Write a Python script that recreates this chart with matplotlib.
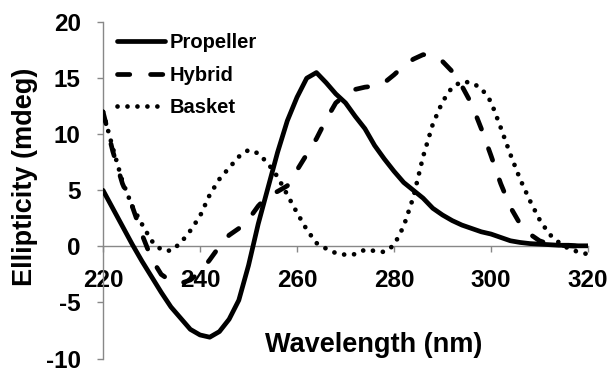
import matplotlib
matplotlib.use("Agg")
import matplotlib.pyplot as plt

plt.rcParams['font.family'] = ['Liberation Sans', 'DejaVu Sans']
plt.rcParams['font.weight'] = 'bold'
plt.rcParams['axes.unicode_minus'] = False

# wavelength grid (nm), every 2 nm
wavelength = list(range(220, 322, 2))

propeller = [5.0, 3.4, 1.8, 0.2, -1.3, -2.7, -4.1, -5.4, -6.4, -7.4,
             -7.9, -8.1, -7.6, -6.5, -4.8, -1.7, 2.0, 5.2, 8.4, 11.2,
             13.3, 15.0, 15.5, 14.6, 13.6, 12.8, 11.6, 10.5, 9.0, 7.8,
             6.7, 5.7, 5.0, 4.3, 3.4, 2.8, 2.3, 1.9, 1.6, 1.3,
             1.1, 0.8, 0.5, 0.35, 0.25, 0.2, 0.15, 0.1, 0.1, 0.05,
             0.05]

hybrid = [12.0, 8.5, 5.6, 3.6, 1.1, -1.1, -2.5, -3.1, -3.3, -3.0,
          -2.3, -1.2, 0.0, 1.0, 1.6, 2.4, 3.6, 4.5, 4.9, 5.4,
          6.8, 8.2, 9.6, 11.3, 12.8, 13.5, 14.0, 14.2, 14.3, 14.6,
          15.3, 16.1, 16.7, 17.1, 17.0, 16.5, 15.6, 14.3, 12.7, 10.5,
          8.1, 5.6, 3.5, 2.0, 1.1, 0.5, 0.2, 0.1, 0.05, 0.0,
          0.0]

basket = [12.0, 8.8, 5.8, 3.6, 2.0, 0.5, -0.3, -0.4, 0.3, 1.4,
          2.7, 4.6, 6.0, 7.0, 8.0, 8.6, 8.3, 7.4, 6.2, 4.6,
          3.0, 1.5, 0.3, -0.2, -0.6, -0.75, -0.7, -0.3, -0.4, -0.5,
          0.1, 1.8, 4.4, 8.0, 10.9, 12.9, 14.2, 14.7, 14.6, 14.1,
          12.9, 10.6, 8.2, 6.0, 4.1, 2.4, 1.1, 0.35, -0.2, -0.5,
          -0.7]

x_ticks = [220, 240, 260, 280, 300, 320]
y_ticks = [-10, -5, 0, 5, 10, 15, 20]

fig = plt.figure(figsize=(6.1, 3.75), dpi=100)
ax = fig.add_axes([0.1689, 0.044, 0.795, 0.897])

lw = 3.4
ax.plot(wavelength, propeller, color='black', lw=lw, solid_capstyle='round',
        solid_joinstyle='round', label='Propeller', zorder=3)
ax.plot(wavelength, hybrid, color='black', lw=lw, linestyle=(0, (2.6, 4.4)),
        dash_capstyle='round', dash_joinstyle='round', label='Hybrid', zorder=3)
ax.plot(wavelength, basket, color='black', lw=lw, linestyle=(0, (0.01, 2.1)),
        dash_capstyle='round', label='Basket', zorder=3)

ax.set_xlim(220, 320)
ax.set_ylim(-10, 20)
ax.set_xticks(x_ticks)
ax.set_yticks(y_ticks)

grey = '#888888'
for s in ['top', 'right']:
    ax.spines[s].set_visible(False)
ax.spines['bottom'].set_position(('data', 0))
ax.spines['bottom'].set_color(grey)
ax.spines['left'].set_color(grey)
ax.spines['bottom'].set_linewidth(1.0)
ax.spines['left'].set_linewidth(1.0)

ax.tick_params(axis='both', colors=grey, labelcolor='black', labelsize=17.5,
               length=4, width=1.0, direction='out')
ax.tick_params(axis='x', pad=12)
ax.tick_params(axis='y', pad=12)
for lab in ax.get_xticklabels() + ax.get_yticklabels():
    lab.set_fontweight('bold')

ax.text(0.558, 0.04, 'Wavelength (nm)', transform=ax.transAxes,
        ha='center', va='center', fontsize=19.5, fontweight='bold')
ax.set_ylabel('Ellipticity (mdeg)', fontsize=19.5, fontweight='bold')
ax.yaxis.set_label_coords(-0.161, 0.54)
ax.yaxis.label.set_va('center')

leg = ax.legend(loc='upper left', bbox_to_anchor=(0.029, 0.968),
                frameon=False, fontsize=14.5, handlelength=2.4,
                handletextpad=0.2, borderpad=0, borderaxespad=0,
                labelspacing=0.68)
for t in leg.get_texts():
    t.set_fontweight('bold')

fig.savefig('out.png', dpi=100)
